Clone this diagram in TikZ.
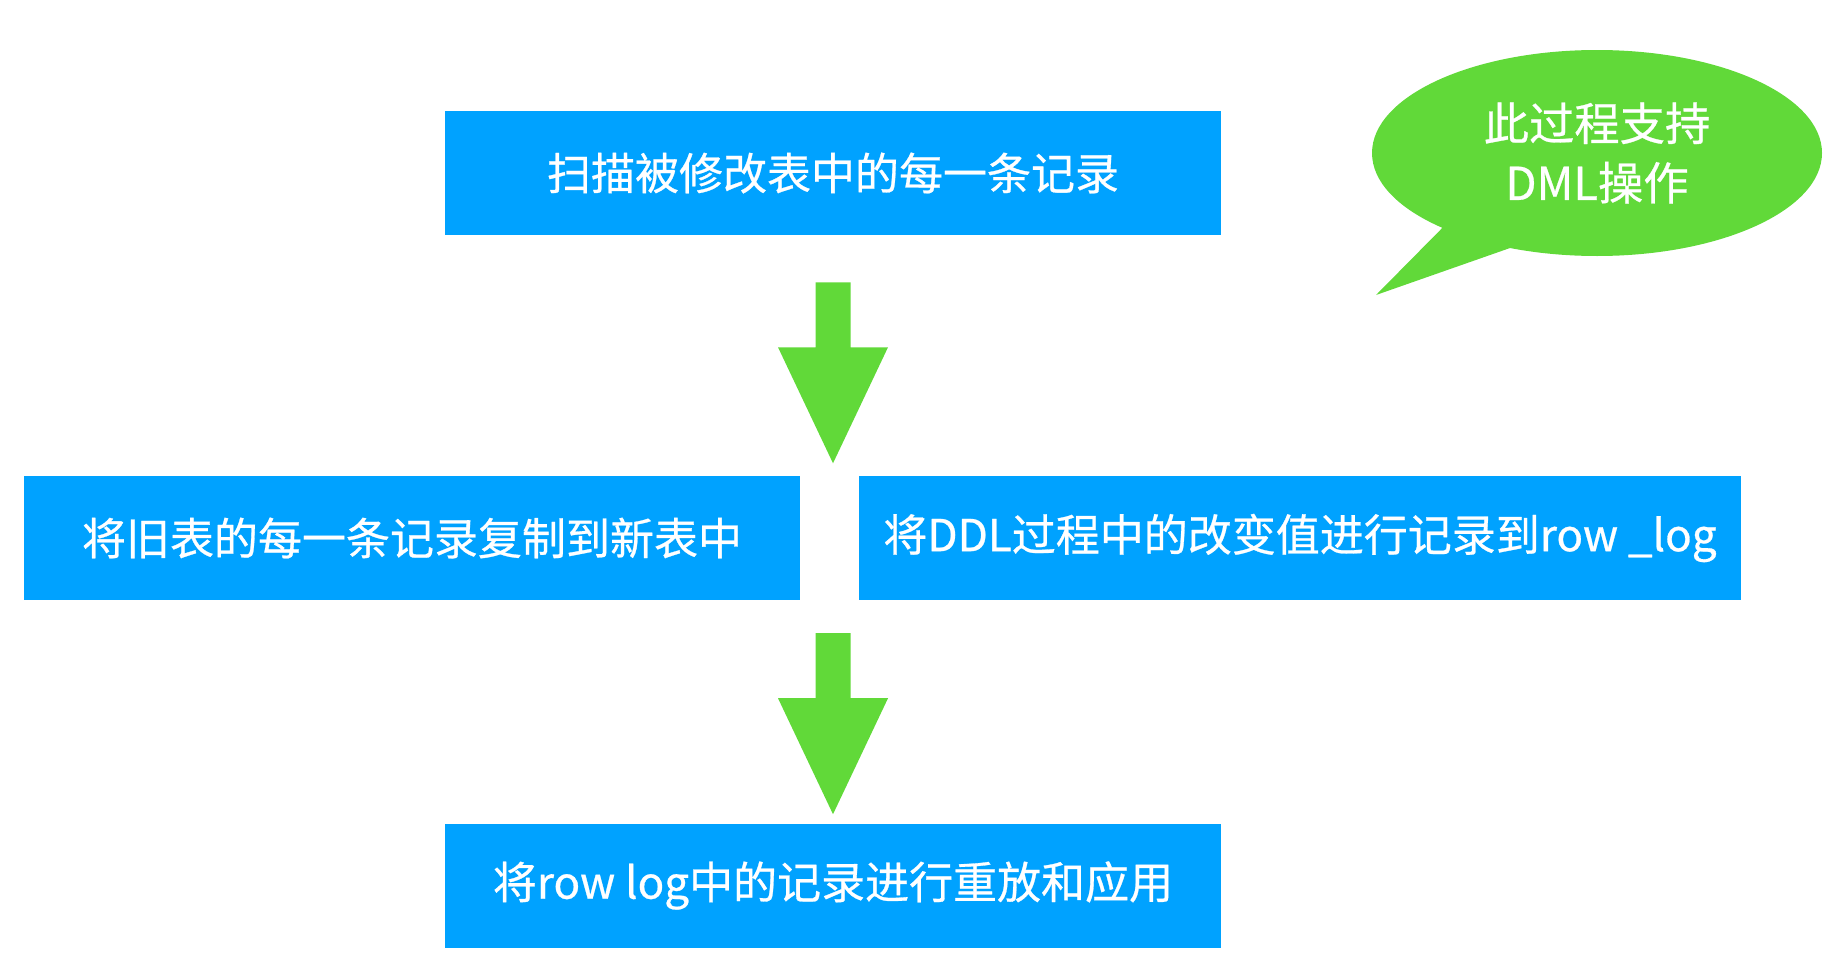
\documentclass[tikz,border=0pt]{standalone}
\usepackage{fontspec}
\newfontfamily\cjk[FakeBold=0.6]{Noto Sans CJK SC}
\usetikzlibrary{shapes.geometric}
\usetikzlibrary{calc}
\definecolor{boxblue}{RGB}{0,162,255}
\definecolor{arrowgreen}{RGB}{97,217,57}

\begin{document}
\begin{tikzpicture}[x=0.75pt,y=0.75pt,yscale=-1,xscale=1,
  stepbox/.style={fill=boxblue, text=white, minimum height=93pt, inner sep=0pt, font=\cjk\fontsize{33}{40}\selectfont},
  downarrow/.pic={\fill[arrowgreen] (-17.5,0) -- (17.5,0) -- (17.5,-65) -- (55,-65) -- (0,-181) -- (-55,-65) -- (-17.5,-65) -- cycle;}]
%set diagram left start at 0, and has height of 978
\useasboundingbox (0,0) rectangle (1828,978);

%Shape: Rectangle [scan]
\node [stepbox, minimum width=582pt] (scan) at (833,173) {扫描被修改表中的每一条记录};
%Shape: Rectangle [copy]
\node [stepbox, minimum width=582pt] (copy) at (412,538) {将旧表的每一条记录复制到新表中};
%Shape: Rectangle [rowlog]
\node [stepbox, minimum width=661.5pt] (rowlog) at (1300,538) {将DDL过程中的改变值进行记录到row \_log};
%Shape: Rectangle [replay]
\node [stepbox, minimum width=582pt] (replay) at (833,885.5) {将row log中的记录进行重放和应用};

%Shape: Down Arrow
\pic at ($(scan.south)+(0,47)$) {downarrow};
%Shape: Down Arrow
\pic at ($(replay.north)+(0,-190)$) {downarrow};

%Shape: Speech Bubble
\node [ellipse, fill=arrowgreen, text=white, minimum width=337.5pt, minimum height=154.5pt, align=center, font=\cjk\fontsize{34}{44.6}\selectfont] (bubble) at (1597,153) {此过程支持\\DML操作};
\coordinate (tail) at (1376,295);
\fill [arrowgreen] ($(bubble.center)+(-137,57)$) -- (tail) -- ($(bubble.center)+(-67,88)$) -- cycle;

\end{tikzpicture}
\end{document}
